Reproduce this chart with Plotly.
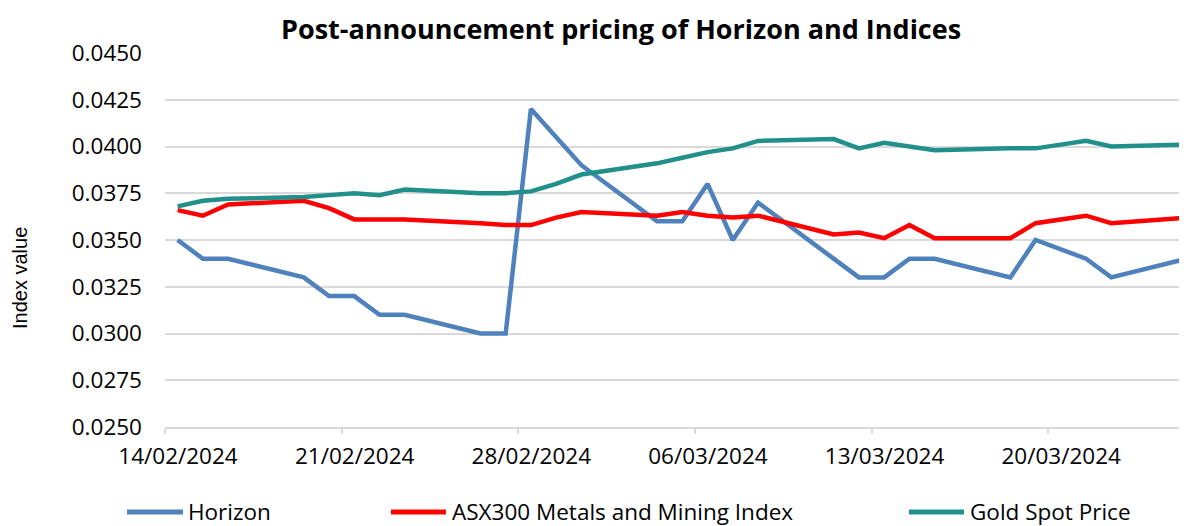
import plotly.graph_objects as go
import pandas as pd

# ---------------- data ----------------
chart_title = "Post-announcement pricing of Horizon and Indices"
y_axis_title = "Index value"

dates = ["2024-02-14", "2024-02-15", "2024-02-16", "2024-02-19", "2024-02-20",
         "2024-02-21", "2024-02-22", "2024-02-23", "2024-02-26", "2024-02-27",
         "2024-02-28", "2024-02-29", "2024-03-01", "2024-03-04", "2024-03-05",
         "2024-03-06", "2024-03-07", "2024-03-08", "2024-03-11", "2024-03-12",
         "2024-03-13", "2024-03-14", "2024-03-15", "2024-03-18", "2024-03-19",
         "2024-03-20", "2024-03-21", "2024-03-22", "2024-03-25"]

horizon = [0.0350, 0.0340, 0.0340, 0.0330, 0.0320, 0.0320, 0.0310, 0.0310, 0.0300, 0.0300,
           0.0420, 0.0405, 0.0390, 0.0360, 0.0360, 0.0380, 0.0350, 0.0370, 0.0340, 0.0330,
           0.0330, 0.0340, 0.0340, 0.0330, 0.0350, 0.0345, 0.0340, 0.0330, 0.0340]

asx300 = [0.0366, 0.0363, 0.0369, 0.0371, 0.0367, 0.0361, 0.0361, 0.0361, 0.0359, 0.0358,
          0.0358, 0.0362, 0.0365, 0.0363, 0.0365, 0.0363, 0.0362, 0.0363, 0.0353, 0.0354,
          0.0351, 0.0358, 0.0351, 0.0351, 0.0359, 0.0361, 0.0363, 0.0359, 0.0362]

gold = [0.0368, 0.0371, 0.0372, 0.0373, 0.0374, 0.0375, 0.0374, 0.0377, 0.0375, 0.0375,
        0.0376, 0.0380, 0.0385, 0.0391, 0.0394, 0.0397, 0.0399, 0.0403, 0.0404, 0.0399,
        0.0402, 0.0400, 0.0398, 0.0399, 0.0399, 0.0401, 0.0403, 0.0400, 0.0401]

series_names = ["Horizon", "ASX300 Metals and Mining Index", "Gold Spot Price"]
series_values = [horizon, asx300, gold]
series_colors = ["#4F81BD", "#FF0000", "#21908A"]

x_tick_labels = ["14/02/2024", "21/02/2024", "28/02/2024", "06/03/2024", "13/03/2024", "20/03/2024"]
y_ticks = [0.0250, 0.0275, 0.0300, 0.0325, 0.0350, 0.0375, 0.0400, 0.0425, 0.0450]

# ---------------- layout geometry ----------------
# page is offset by the default 8px body margin; work in page pixels
OFF = 8
W, H = 1187 - OFF, 526 - OFF
L, R, T, B = 165 - OFF, 0, 53 - OFF, 99
PW, PH = W - L - R, H - T - B

FONT = "Open Sans"
FS = 22.5

def px_x(p):
    return (p - OFF - L) / PW

def px_y(p):
    return (H - B - (p - OFF)) / PH

x_dates = pd.to_datetime(dates)
tick_dates = pd.to_datetime(x_tick_labels, format="%d/%m/%Y")
half_day = pd.Timedelta(hours=12)
tickvals = [d - half_day for d in tick_dates]
x_range = [x_dates[0] - half_day, x_dates[-1]]

fig = go.Figure()
for name, vals, col in zip(series_names, series_values, series_colors):
    fig.add_trace(go.Scatter(x=x_dates, y=vals, mode="lines", name=name,
                             line=dict(color=col, width=4.5), showlegend=False))

# manual legend (lines + text) below the chart
legend_line_x = [(127, 183), (391, 446), (909, 964)]
legend_text_x = [186, 450, 968]
legend_y = 511
shapes = []
annotations = []
for name, col, (x0, x1), tx in zip(series_names, series_colors, legend_line_x, legend_text_x):
    shapes.append(dict(type="line", xref="paper", yref="paper",
                       x0=px_x(x0), x1=px_x(x1), y0=px_y(legend_y + 1), y1=px_y(legend_y + 1),
                       line=dict(color=col, width=5)))
    annotations.append(dict(text=name, xref="paper", yref="paper", x=px_x(tx), y=px_y(legend_y),
                            xanchor="left", yanchor="middle", showarrow=False,
                            font=dict(family=FONT, size=FS, color="#000000")))

# title
annotations.append(dict(text="<b>" + chart_title + "</b>", xref="paper", yref="paper",
                        x=px_x(621), y=px_y(29), xanchor="center", yanchor="middle",
                        showarrow=False, font=dict(family=FONT, size=27, color="#000000")))
# y axis title
annotations.append(dict(text=y_axis_title, xref="paper", yref="paper",
                        x=px_x(20), y=px_y(278), xanchor="center", yanchor="middle",
                        textangle=-90, showarrow=False,
                        font=dict(family="Liberation Sans", size=20, color="#000000")))

fig.update_layout(
    width=W, height=H,
    margin=dict(l=L, r=R, t=T, b=B, pad=0),
    paper_bgcolor="#FFFFFF", plot_bgcolor="#FFFFFF",
    showlegend=False,
    shapes=shapes, annotations=annotations,
    font=dict(family=FONT, size=FS, color="#000000"),
)

fig.update_xaxes(
    type="date", range=x_range,
    tickmode="array", tickvals=tickvals, ticktext=x_tick_labels,
    ticks="outside", ticklen=5, tickcolor="#D9D9D9", tickwidth=1.5,
    ticklabelshift=13, ticklabelstandoff=3,
    showgrid=False, showline=True, linecolor="#D9D9D9", linewidth=2,
    zeroline=False, tickfont=dict(family=FONT, size=FS, color="#000000"),
)
fig.update_yaxes(
    range=[y_ticks[0], y_ticks[-1]],
    tickmode="array", tickvals=y_ticks, tickformat=".4f",
    showgrid=True, gridcolor="#D9D9D9", gridwidth=1.5,
    showline=False, zeroline=False, ticks="",
    ticklabelstandoff=22,
    tickfont=dict(family=FONT, size=FS, color="#000000"),
)

fig.write_html("out.html")
